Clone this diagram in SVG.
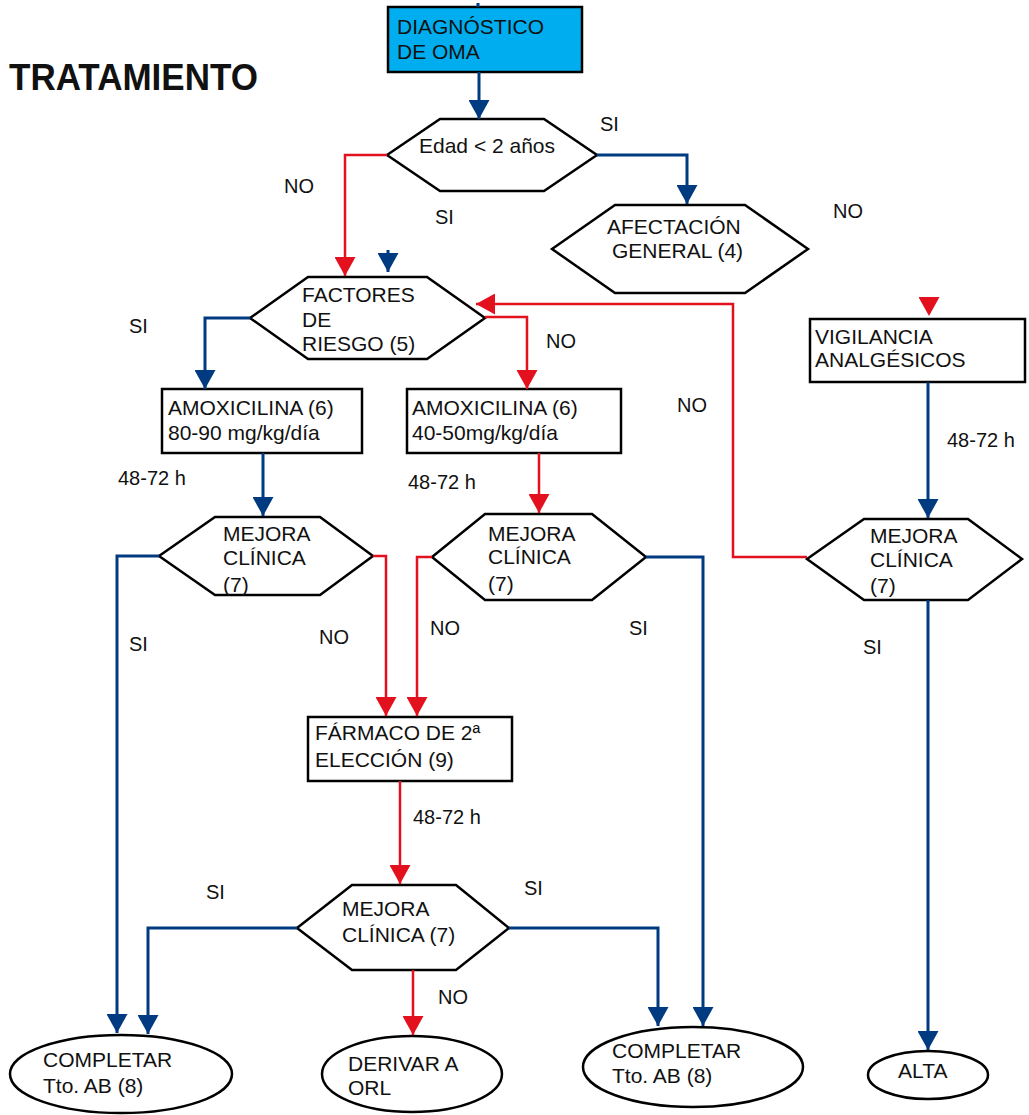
<svg xmlns="http://www.w3.org/2000/svg" width="1029" height="1115" viewBox="0 0 1029 1115">
<style>
.n{fill:#fff;stroke:#000;stroke-width:2.5}
.t{font-family:"Liberation Sans",Arial,sans-serif;font-size:21px;fill:#111}
.l{font-family:"Liberation Sans",Arial,sans-serif;font-size:20px;fill:#111}
.b{fill:none;stroke:#003a80;stroke-width:3}
.r{fill:none;stroke:#e3101e;stroke-width:2.5}
</style>
<defs>
<marker id="ab" viewBox="0 0 19 21" refX="19" refY="10.5" markerWidth="19" markerHeight="21" markerUnits="userSpaceOnUse" orient="auto"><path d="M0,0 L19,10.5 L0,21 z" fill="#003a80"/></marker>
<marker id="ar" viewBox="0 0 19 21" refX="19" refY="10.5" markerWidth="19" markerHeight="21" markerUnits="userSpaceOnUse" orient="auto"><path d="M0,0 L19,10.5 L0,21 z" fill="#e3101e"/></marker>
</defs>
<rect width="1029" height="1115" fill="#fff"/>
<text x="9" y="90" font-family="'Liberation Sans',Arial,sans-serif" font-weight="bold" font-size="36" textLength="249" lengthAdjust="spacingAndGlyphs" fill="#111">TRATAMIENTO</text>

<g id="diagnostico"><rect x="388" y="7" width="194" height="65" fill="#00aeef" stroke="#000" stroke-width="2.5"/><text class="t" x="397" y="34">DIAGNÓSTICO</text><text class="t" x="397" y="59">DE OMA</text></g>
<g id="edad"><polygon class="n" points="387,155 440,119 544,119 597,155 544,191 440,191"/><text class="t" x="419" y="153">Edad &lt; 2 años</text></g>
<g id="afectacion"><polygon class="n" points="552,249 615,205 745,205 808,249 745,293 615,293"/><text class="t" x="607" y="234">AFECTACIÓN</text><text class="t" x="612" y="258">GENERAL (4)</text></g>
<g id="factores"><polygon class="n" points="250,318 308,277 427,277 485,318 427,359 308,359"/><text class="t" x="302" y="302">FACTORES</text><text class="t" x="302" y="327">DE</text><text class="t" x="302" y="351">RIESGO (5)</text></g>
<g id="amox1"><rect class="n" x="162" y="389" width="200" height="64"/><text class="t" x="168" y="415">AMOXICILINA (6)</text><text class="t" x="168" y="440">80-90 mg/kg/día</text></g>
<g id="amox2"><rect class="n" x="407" y="389" width="214" height="64"/><text class="t" x="412" y="415">AMOXICILINA (6)</text><text class="t" x="412" y="440">40-50mg/kg/día</text></g>
<g id="vigilancia"><rect class="n" x="810" y="319" width="215" height="63"/><text class="t" x="815" y="344">VIGILANCIA</text><text class="t" x="815" y="367">ANALGÉSICOS</text></g>
<g id="mejora1"><polygon class="n" points="159,556 215,517 320,517 373,556 320,595 215,595"/><text class="t" x="223" y="541">MEJORA</text><text class="t" x="223" y="565">CLÍNICA</text><text class="t" x="223" y="592">(7)</text></g>
<g id="mejora2"><polygon class="n" points="432,557 485,514 592,514 646,557 592,600 485,600"/><text class="t" x="488" y="541">MEJORA</text><text class="t" x="488" y="564">CLÍNICA</text><text class="t" x="488" y="591">(7)</text></g>
<g id="mejora4"><polygon class="n" points="807,559 864,519 968,519 1022,559 968,600 864,600"/><text class="t" x="870" y="543">MEJORA</text><text class="t" x="870" y="567">CLÍNICA</text><text class="t" x="870" y="593">(7)</text></g>
<g id="farmaco"><rect class="n" x="308" y="717" width="204" height="64"/><text class="t" x="315" y="740">FÁRMACO DE 2ª</text><text class="t" x="315" y="767">ELECCIÓN (9)</text></g>
<g id="mejora3"><polygon class="n" points="297,928 352,885 456,885 509,928 456,970 352,970"/><text class="t" x="342" y="916">MEJORA</text><text class="t" x="342" y="942">CLÍNICA (7)</text></g>
<g id="completar1"><ellipse class="n" cx="121" cy="1074" rx="111" ry="39"/><text class="t" x="43" y="1067">COMPLETAR</text><text class="t" x="43" y="1093">Tto. AB (8)</text></g>
<g id="derivar"><ellipse class="n" cx="412" cy="1074" rx="90" ry="38"/><text class="t" x="348" y="1071">DERIVAR A</text><text class="t" x="348" y="1095">ORL</text></g>
<g id="completar2"><ellipse class="n" cx="693" cy="1067" rx="110" ry="40"/><text class="t" x="612" y="1058">COMPLETAR</text><text class="t" x="612" y="1083">Tto. AB (8)</text></g>
<g id="alta"><ellipse class="n" cx="928" cy="1075" rx="60" ry="24"/><text class="t" x="898" y="1078">ALTA</text></g>

<g id="connectors">
<path class="b" d="M478,3 V7" stroke-width="1.5"/>
<path class="b" d="M479,72 V119" marker-end="url(#ab)"/>
<path class="b" d="M597,155 H687 V204" marker-end="url(#ab)"/>
<path class="b" d="M388,250 V272" marker-end="url(#ab)"/>
<path class="b" d="M250,318 H205 V389" marker-end="url(#ab)"/>
<path class="b" d="M263,453 V516" marker-end="url(#ab)"/>
<path class="b" d="M159,556 H117 V1033" marker-end="url(#ab)"/>
<path class="b" d="M646,557 H703 V1026" marker-end="url(#ab)"/>
<path class="b" d="M297,928 H148 V1034" marker-end="url(#ab)"/>
<path class="b" d="M509,928 H658 V1026" marker-end="url(#ab)"/>
<path class="b" d="M928,382 V518" marker-end="url(#ab)"/>
<path class="b" d="M928,600 V1050" marker-end="url(#ab)"/>
<path class="r" d="M387,155 H345 V276" marker-end="url(#ar)"/>
<path class="r" d="M485,317 H527 V389" marker-end="url(#ar)"/>
<path class="r" d="M539,453 V513" marker-end="url(#ar)"/>
<path class="r" d="M807,557 H733 V304 H476" marker-end="url(#ar)"/>
<path class="r" d="M373,556 H386 V716" marker-end="url(#ar)"/>
<path class="r" d="M432,557 H417 V716" marker-end="url(#ar)"/>
<path class="r" d="M400,781 V884" marker-end="url(#ar)"/>
<path class="r" d="M413,970 V1035" marker-end="url(#ar)"/>
<path d="M929,297 V316" fill="none" stroke="none" marker-end="url(#ar)"/>
</g>

<g id="labels">
<text class="l" x="600" y="131">SI</text>
<text class="l" x="284" y="193">NO</text>
<text class="l" x="435" y="224">SI</text>
<text class="l" x="833" y="218">NO</text>
<text class="l" x="129" y="333">SI</text>
<text class="l" x="546" y="348">NO</text>
<text class="l" x="677" y="412">NO</text>
<text class="l" x="118" y="485">48-72 h</text>
<text class="l" x="408" y="489">48-72 h</text>
<text class="l" x="947" y="447">48-72 h</text>
<text class="l" x="129" y="651">SI</text>
<text class="l" x="319" y="644">NO</text>
<text class="l" x="430" y="635">NO</text>
<text class="l" x="629" y="635">SI</text>
<text class="l" x="863" y="654">SI</text>
<text class="l" x="413" y="824">48-72 h</text>
<text class="l" x="206" y="899">SI</text>
<text class="l" x="524" y="895">SI</text>
<text class="l" x="438" y="1004">NO</text>
</g>
</svg>
